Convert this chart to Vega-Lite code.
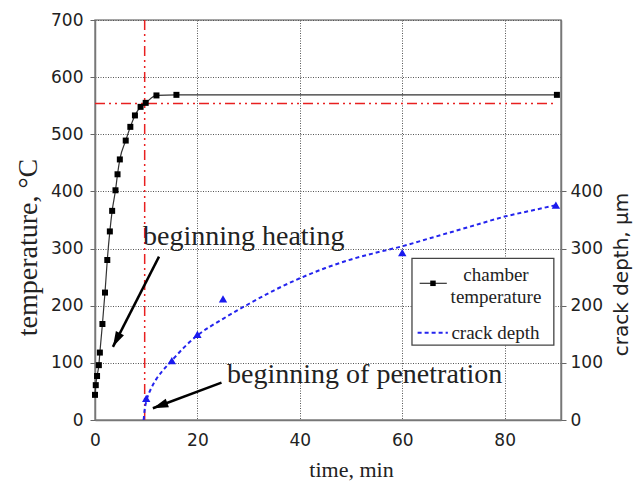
{
  "$schema": "https://vega.github.io/schema/vega-lite/v6.json",
  "width": 466,
  "height": 400,
  "autosize": "none",
  "padding": {"left": 95, "top": 20, "right": 83, "bottom": 62},
  "background": "white",
  "config": {
    "view": {"stroke": "#888", "strokeWidth": 1.5},
    "axis": {
      "labelFont": "DejaVu Sans", "labelFontSize": 17, "labelColor": "#222",
      "titleFont": "Liberation Serif", "titleFontWeight": "normal", "titleColor": "#222",
      "domainColor": "#777", "domainWidth": 1.5, "tickColor": "#666",
      "gridColor": "#555", "gridDash": [1, 1.5], "gridWidth": 1
    }
  },
  "datasets": {
    "temp": [
      {"t": 0, "temp": 44}, {"t": 0.15, "temp": 61}, {"t": 0.4, "temp": 77}, {"t": 0.75, "temp": 96},
      {"t": 0.95, "temp": 118}, {"t": 1.45, "temp": 168}, {"t": 1.95, "temp": 223}, {"t": 2.4, "temp": 280},
      {"t": 2.9, "temp": 330}, {"t": 3.35, "temp": 366}, {"t": 4.0, "temp": 402}, {"t": 4.4, "temp": 430},
      {"t": 4.85, "temp": 456}, {"t": 6.0, "temp": 489}, {"t": 6.9, "temp": 513}, {"t": 7.8, "temp": 533},
      {"t": 8.9, "temp": 548}, {"t": 9.9, "temp": 555}, {"t": 12, "temp": 568}, {"t": 15.9, "temp": 569},
      {"t": 90.2, "temp": 569}
    ],
    "crack": [
      {"t": 10, "depth": 38}, {"t": 15, "depth": 104}, {"t": 20, "depth": 150},
      {"t": 25, "depth": 212}, {"t": 60, "depth": 293}, {"t": 90, "depth": 376}
    ],
    "fit": [
      {"t": 9.5, "depth": 0}, {"t": 9.7, "depth": 18}, {"t": 10, "depth": 32}, {"t": 10.5, "depth": 46},
      {"t": 11, "depth": 56}, {"t": 12, "depth": 72}, {"t": 13, "depth": 84}, {"t": 15, "depth": 104},
      {"t": 17.5, "depth": 128}, {"t": 20, "depth": 148}, {"t": 25, "depth": 177}, {"t": 30, "depth": 203},
      {"t": 35, "depth": 227}, {"t": 40, "depth": 248}, {"t": 45, "depth": 266}, {"t": 50, "depth": 281},
      {"t": 55, "depth": 293}, {"t": 60, "depth": 304}, {"t": 65, "depth": 317}, {"t": 70, "depth": 330},
      {"t": 75, "depth": 343}, {"t": 80, "depth": 356}, {"t": 85, "depth": 366}, {"t": 90, "depth": 376}
    ]
  },
  "layer": [
    {
      "layer": [
        {
          "data": {"name": "temp"},
          "mark": {"type": "line", "color": "#333", "strokeWidth": 1.2, "interpolate": "monotone"},
          "encoding": {
            "x": {"field": "t", "type": "quantitative", "scale": {"domain": [0, 91], "nice": false},
              "axis": {"values": [0, 20, 40, 60, 80], "title": "time, min", "titleFontSize": 22,
                "ticks": false, "labelFlush": false, "labelPadding": 12, "titlePadding": 11, "titleX": 256, "grid": true, "domain": true}},
            "y": {"field": "temp", "type": "quantitative", "scale": {"domain": [0, 700], "nice": false},
              "axis": {"values": [0, 100, 200, 300, 400, 500, 600, 700], "title": "temperature, °C",
                "titleFontSize": 28, "tickSize": 5, "labelPadding": 7, "titlePadding": 8, "titleY": 227, "grid": true}}
          }
        },
        {
          "data": {"values": [{}]},
          "mark": {"type": "rule", "color": "#e82020", "strokeWidth": 1.5, "strokeDash": [10, 4, 2, 4, 2, 4]},
          "encoding": {
            "x": {"datum": 0, "type": "quantitative"},
            "x2": {"datum": 90},
            "y": {"datum": 554, "type": "quantitative"}
          }
        },
        {
          "data": {"values": [{}]},
          "mark": {"type": "rule", "color": "#e82020", "strokeWidth": 1.5, "strokeDash": [10, 4, 2, 4, 2, 4]},
          "encoding": {
            "x": {"datum": 9.7, "type": "quantitative"},
            "y": {"datum": 0, "type": "quantitative"},
            "y2": {"datum": 700}
          }
        },
        {
          "data": {"name": "temp"},
          "mark": {"type": "point", "shape": "square", "filled": true, "color": "#000", "size": 36, "opacity": 1},
          "encoding": {
            "x": {"field": "t", "type": "quantitative"},
            "y": {"field": "temp", "type": "quantitative"}
          }
        },
        {
          "data": {"values": [{"label": "beginning heating"}]},
          "mark": {"type": "text", "font": "Liberation Serif", "fontSize": 28, "color": "#222", "align": "left", "baseline": "alphabetic"},
          "encoding": {
            "x": {"datum": 9.37, "type": "quantitative"},
            "y": {"datum": 306, "type": "quantitative"},
            "text": {"field": "label"}
          }
        },
        {
          "data": {"values": [{"label": "beginning of penetration"}]},
          "mark": {"type": "text", "font": "Liberation Serif", "fontSize": 28, "color": "#222", "align": "left", "baseline": "alphabetic"},
          "encoding": {
            "x": {"datum": 25.8, "type": "quantitative"},
            "y": {"datum": 64.2, "type": "quantitative"},
            "text": {"field": "label"}
          }
        },
        {
          "data": {"values": [{}]},
          "mark": {"type": "rule", "color": "#000", "strokeWidth": 2.5},
          "encoding": {
            "x": {"datum": 12.5, "type": "quantitative"},
            "y": {"datum": 285.8, "type": "quantitative"},
            "x2": {"datum": 3.5},
            "y2": {"datum": 128}
          }
        },
        {
          "data": {"values": [{}]},
          "mark": {"type": "point", "shape": "M0,0L0.65,2.2L-0.65,2.2Z", "filled": true, "color": "#000", "size": 196, "opacity": 1, "angle": 207},
          "encoding": {
            "x": {"datum": 3.5, "type": "quantitative"},
            "y": {"datum": 128, "type": "quantitative"}
          }
        },
        {
          "data": {"values": [{}]},
          "mark": {"type": "rule", "color": "#000", "strokeWidth": 2.5},
          "encoding": {
            "x": {"datum": 24.7, "type": "quantitative"},
            "y": {"datum": 65.3, "type": "quantitative"},
            "x2": {"datum": 11.3},
            "y2": {"datum": 20.5}
          }
        },
        {
          "data": {"values": [{}]},
          "mark": {"type": "point", "shape": "M0,0L0.65,2.2L-0.65,2.2Z", "filled": true, "color": "#000", "size": 196, "opacity": 1, "angle": 249.5},
          "encoding": {
            "x": {"datum": 11.3, "type": "quantitative"},
            "y": {"datum": 20.5, "type": "quantitative"}
          }
        },
        {
          "data": {"values": [{}]},
          "mark": {"type": "rect", "fill": "white", "stroke": "#444", "strokeWidth": 1.3},
          "encoding": {
            "x": {"datum": 61.9, "type": "quantitative"},
            "x2": {"datum": 89.6},
            "y": {"datum": 283, "type": "quantitative"},
            "y2": {"datum": 131}
          }
        },
        {
          "data": {"values": [{}]},
          "mark": {"type": "rule", "color": "#333", "strokeWidth": 1.2},
          "encoding": {
            "x": {"datum": 63.4, "type": "quantitative"},
            "x2": {"datum": 68.7},
            "y": {"datum": 239.2, "type": "quantitative"}
          }
        },
        {
          "data": {"values": [{}]},
          "mark": {"type": "point", "shape": "square", "filled": true, "color": "#000", "size": 30, "opacity": 1},
          "encoding": {
            "x": {"datum": 66, "type": "quantitative"},
            "y": {"datum": 239.2, "type": "quantitative"}
          }
        },
        {
          "data": {"values": [{}]},
          "mark": {"type": "rule", "color": "#2424ee", "strokeWidth": 2, "strokeDash": [4, 3]},
          "encoding": {
            "x": {"datum": 63.0, "type": "quantitative"},
            "x2": {"datum": 68.9},
            "y": {"datum": 152.8, "type": "quantitative"}
          }
        },
        {
          "data": {"values": [{"label": "chamber\ntemperature"}]},
          "mark": {"type": "text", "font": "Liberation Serif", "fontSize": 19, "color": "#222", "align": "center", "baseline": "middle", "lineBreak": "\n", "lineHeight": 22},
          "encoding": {
            "x": {"datum": 78.3, "type": "quantitative"},
            "y": {"datum": 253.7, "type": "quantitative"},
            "text": {"field": "label"}
          }
        },
        {
          "data": {"values": [{"label": "crack depth"}]},
          "mark": {"type": "text", "font": "Liberation Serif", "fontSize": 19, "color": "#222", "align": "left", "baseline": "middle"},
          "encoding": {
            "x": {"datum": 69.6, "type": "quantitative"},
            "y": {"datum": 152.8, "type": "quantitative"},
            "text": {"field": "label"}
          }
        }
      ]
    },
    {
      "layer": [
        {
          "data": {"name": "fit"},
          "mark": {"type": "line", "color": "#2424ee", "strokeWidth": 2, "strokeDash": [4, 3], "interpolate": "monotone"},
          "encoding": {
            "x": {"field": "t", "type": "quantitative"},
            "y": {"field": "depth", "type": "quantitative", "scale": {"domain": [0, 700], "nice": false},
              "axis": {"orient": "right", "values": [0, 100, 200, 300, 400], "title": "crack depth,   µm",
                "titleFont": "DejaVu Sans", "titleFontSize": 20, "titleAngle": 270, "titleY": 254,
                "tickSize": 5, "labelPadding": 4, "titlePadding": 29, "grid": false}}
          }
        },
        {
          "data": {"name": "crack"},
          "mark": {"type": "point", "shape": "triangle-up", "filled": true, "color": "#1a1aee", "size": 70, "opacity": 1},
          "encoding": {
            "x": {"field": "t", "type": "quantitative"},
            "y": {"field": "depth", "type": "quantitative"}
          }
        }
      ]
    }
  ],
  "resolve": {"scale": {"y": "independent"}}
}
